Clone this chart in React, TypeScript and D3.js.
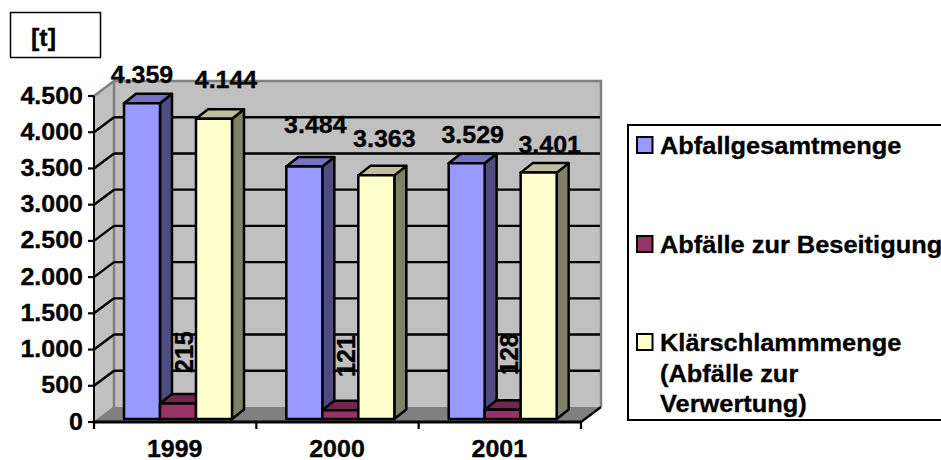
import React from "react";
import * as d3 from "d3";

// Annual waste quantities in tonnes
const years = ["1999", "2000", "2001"];
const seriesNames = ["Abfallgesamtmenge", "Abfälle zur Beseitigung", "Klärschlammmenge"];
const abfallgesamtmenge = [4359, 3484, 3529];
const beseitigung = [215, 121, 128];
const klaerschlamm = [4144, 3363, 3401];
const yTicks = [0, 500, 1000, 1500, 2000, 2500, 3000, 3500, 4000, 4500];
const unitLabel = "[t]";
const legendLabels = [
  ["Abfallgesamtmenge"],
  ["Abfälle zur Beseitigung"],
  ["Klärschlammmenge", "(Abfälle zur", "Verwertung)"],
];

const faces = [
  { front: "#9999ff", top: "#7373bf", side: "#4d4d80" },
  { front: "#993366", top: "#73264d", side: "#4d1a33" },
  { front: "#ffffcc", top: "#bfbf99", side: "#808066" },
];

const W = 941, H = 460;
const plotLeft = 94, plotRight = 581, plotBase = 422, plotTop = 96;
const wallDx = 20, wallDy = -15;
const barDx = 12, barDy = -9.5;
const barLift = 3;
const font = "'Liberation Sans', Arial, sans-serif";

const numberLabel = (v: number) =>
  v >= 1000 ? `${Math.floor(v / 1000)}.${String(v % 1000).padStart(3, "0")}` : String(v);

function Label({ x, y, anchor = "start", size = 25, children }: any) {
  return (
    <text
      transform={`translate(${x},${y}) scale(1,0.97)`}
      textAnchor={anchor}
      fontFamily={font}
      fontWeight="bold"
      fontSize={size}
      fill="#000"
      stroke="#000"
      strokeWidth={0.35}
    >
      {children}
    </text>
  );
}

const pts = (p: number[][]) => p.map((q) => q.join(",")).join(" ");

export default function App() {
  const y = d3.scaleLinear().domain([0, 4500]).range([plotBase, plotTop]);
  const yBar = d3.scaleLinear().domain([0, 4500]).range([plotBase - barLift, plotTop - barLift]);
  const xGroup = d3.scaleBand().domain(years).range([plotLeft, plotRight]);
  const xBar = d3.scaleBand().domain(seriesNames).range([30, 138]);
  const values = [abfallgesamtmenge, beseitigung, klaerschlamm];

  // Distance from each tall bar's top to its value label, and the label's centre within the bar slot
  const lift = [
    [20, 31],
    [34, 28],
    [20, 20],
  ];
  const blueCentre = [18, 29, 24];
  const yellowCentre = [30, 26, 29];

  return (
    <svg width={W} height={H} style={{ position: "absolute", left: 0, top: 0 }}>
      <rect width={W} height={H} fill="#fff" />

      {/* Unit box */}
      <rect x={10.5} y={12.5} width={90} height={45} fill="#fff" stroke="#000" strokeWidth={1.5} />
      <Label x={31} y={46}>{unitLabel}</Label>

      {/* Side wall, back wall and floor */}
      <polygon
        points={pts([[plotLeft, plotTop], [plotLeft + wallDx, plotTop + wallDy], [plotLeft + wallDx, plotBase + wallDy], [plotLeft, plotBase]])}
        fill="#c0c0c0"
      />
      <rect
        x={plotLeft + wallDx}
        y={plotTop + wallDy}
        width={plotRight - plotLeft}
        height={plotBase - plotTop}
        fill="#c0c0c0"
      />
      <polygon
        points={pts([[plotLeft, plotBase], [plotLeft + wallDx, plotBase + wallDy], [plotRight + wallDx, plotBase + wallDy], [plotRight, plotBase]])}
        fill="#808080"
      />

      {/* Wall edges */}
      <path
        d={`M${plotLeft},${plotTop}L${plotLeft + wallDx},${plotTop + wallDy}H${plotRight + wallDx}V${plotBase + wallDy}`}
        fill="none"
        stroke="#808080"
        strokeWidth={2.5}
      />
      <line
        x1={plotLeft + wallDx}
        x2={plotLeft + wallDx}
        y1={plotTop + wallDy}
        y2={plotBase + wallDy}
        stroke="#808080"
        strokeWidth={2.5}
      />
      <line
        x1={plotLeft}
        x2={plotLeft + wallDx}
        y1={plotBase}
        y2={plotBase + wallDy}
        stroke="#808080"
        strokeWidth={1.5}
      />

      {/* Gridlines: a diagonal on the side wall, then across the back wall */}
      {yTicks.slice(1, -1).map((t) => (
        <g key={t} stroke="#000" strokeWidth={2.4}>
          <line x1={plotLeft} y1={y(t)} x2={plotLeft + wallDx} y2={y(t) + wallDy} />
          <line x1={plotLeft + wallDx} y1={y(t) + wallDy} x2={plotRight + wallDx - 1} y2={y(t) + wallDy} />
        </g>
      ))}

      {/* Value axis */}
      <line x1={plotLeft} x2={plotLeft} y1={plotTop} y2={plotBase} stroke="#000" strokeWidth={2} />
      {yTicks.map((t) => (
        <g key={t}>
          <line x1={plotLeft - 6} x2={plotLeft} y1={y(t)} y2={y(t)} stroke="#000" strokeWidth={2.2} />
          <Label x={83} y={y(t) + 7.5} anchor="end">{numberLabel(t)}</Label>
        </g>
      ))}

      {/* Bars */}
      {years.map((yr, g) => (
        <g key={yr}>
          {seriesNames.map((name, s) => {
            const x0 = xGroup(yr)! + xBar(name)!;
            const x1 = x0 + xBar.bandwidth();
            const yTop = yBar(values[s][g]);
            const yBot = yBar(0);
            return (
              <g key={name} stroke="#000" strokeWidth={2.5} strokeLinejoin="round">
                <polygon
                  points={pts([[x1, yTop], [x1 + barDx, yTop + barDy], [x1 + barDx, yBot + barDy], [x1, yBot]])}
                  fill={faces[s].side}
                />
                <polygon
                  points={pts([[x0, yTop], [x1, yTop], [x1 + barDx, yTop + barDy], [x0 + barDx, yTop + barDy]])}
                  fill={faces[s].top}
                />
                <rect x={x0} y={yTop} width={x1 - x0} height={yBot - yTop} fill={faces[s].front} />
              </g>
            );
          })}
        </g>
      ))}

      {/* Category axis */}
      <line x1={plotLeft} x2={plotRight} y1={plotBase} y2={plotBase} stroke="#000" strokeWidth={3} />
      <line x1={plotRight} x2={plotRight + wallDx} y1={plotBase} y2={plotBase + wallDy} stroke="#000" strokeWidth={2.2} />
      {[...years.map((yr) => xGroup(yr)!), plotRight].map((x) => (
        <line key={x} x1={x} x2={x} y1={plotBase} y2={plotBase + 7} stroke="#000" strokeWidth={2.2} />
      ))}
      {years.map((yr) => (
        <Label key={yr} x={xGroup(yr)! + xGroup.bandwidth() / 2 - 0.5} y={plotBase + 34.5} anchor="middle">
          {yr}
        </Label>
      ))}

      {/* Value labels */}
      {years.map((yr, g) => {
        const blueX = xGroup(yr)! + xBar(seriesNames[0])! + blueCentre[g];
        const yellowX = xGroup(yr)! + xBar(seriesNames[2])! + yellowCentre[g];
        const midX = xGroup(yr)! + xBar(seriesNames[1])! + 33;
        return (
          <g key={yr}>
            <Label x={blueX} y={yBar(abfallgesamtmenge[g]) - lift[g][0]} anchor="middle">
              {numberLabel(abfallgesamtmenge[g])}
            </Label>
            <Label x={yellowX} y={yBar(klaerschlamm[g]) - lift[g][1]} anchor="middle">
              {numberLabel(klaerschlamm[g])}
            </Label>
            <text
              transform={`translate(${midX},${[373, 377, 375][g]}) rotate(-90)`}
              fontFamily={font}
              fontWeight="bold"
              fontSize={25}
              fill="#000"
              stroke="#000"
              strokeWidth={0.35}
            >
              {beseitigung[g]}
            </text>
          </g>
        );
      })}

      {/* Legend */}
      <rect x={628} y={125} width={340} height={295} fill="#fff" stroke="#000" strokeWidth={2} />
      {legendLabels.map((lines, i) => {
        const swatchY = [137, 236, 334][i];
        return (
          <g key={i}>
            <rect x={637} y={swatchY} width={15.5} height={16} fill={faces[i].front} stroke="#000" strokeWidth={2} />
            {lines.map((line, j) => (
              <Label key={line} x={660} y={swatchY + 17 + j * 30.5} size={25.4}>{line}</Label>
            ))}
          </g>
        );
      })}
    </svg>
  );
}
